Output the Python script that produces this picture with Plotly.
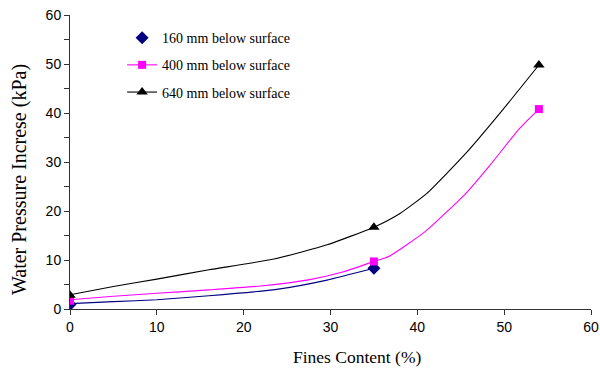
import plotly.graph_objects as go

# Measured points (with markers)
fines_160 = [0, 35]
wp_160 = [0.9, 8.3]
fines_400 = [0, 35, 54]
wp_400 = [1.7, 9.7, 40.8]
fines_640 = [0, 35, 54]
wp_640 = [2.8, 16.7, 49.8]

# Smoothed curves
curve_x_160 = [0, 5, 10, 16, 23.8, 29.6, 35]
curve_y_160 = [1.1, 1.5, 1.9, 2.7, 4.0, 5.9, 8.3]
curve_x_400 = [0, 5, 10, 16, 22, 27.6, 31.5, 35, 36.7, 40.9, 45.6, 48.4, 51.8, 54]
curve_y_400 = [1.9, 2.6, 3.2, 3.9, 4.7, 6.0, 7.6, 9.7, 10.7, 15.8, 23.6, 29.4, 36.9, 40.8]
curve_x_640 = [0, 5, 10, 16, 23.5, 29.6, 35, 38, 41.1, 45.6, 49.9, 54]
curve_y_640 = [2.9, 4.6, 6.1, 8.0, 10.2, 13.1, 16.7, 19.5, 23.6, 31.8, 40.8, 49.8]

x_ticks = [0, 10, 20, 30, 40, 50, 60]
y_ticks = [0, 10, 20, 30, 40, 50, 60]

names = ["160 mm below surface", "400 mm below surface", "640 mm below surface"]
NAVY = "#000080"
MAGENTA = "#FF00FF"
BLACK = "#000000"
SERIF = "Liberation Serif, Times New Roman, serif"
SANS = "Liberation Sans, Arial, sans-serif"
LW = 1.1

fig = go.Figure()

series = [
    (curve_x_160, curve_y_160, fines_160, wp_160, NAVY, "diamond", 10, "markers"),
    (curve_x_400, curve_y_400, fines_400, wp_400, MAGENTA, "square", 8, "lines+markers"),
    (curve_x_640, curve_y_640, fines_640, wp_640, BLACK, "triangle-up", 10, "lines+markers"),
]

for i, (cx, cy, mx, my, col, sym, size, legmode) in enumerate(series):
    fig.add_trace(go.Scatter(x=cx, y=cy, mode="lines",
                             line=dict(color=col, width=LW, shape="spline", smoothing=0.5),
                             showlegend=False, hoverinfo="skip"))
    fig.add_trace(go.Scatter(x=mx, y=my, mode="markers",
                             marker=dict(symbol=sym, size=size, color=col),
                             showlegend=False))
    # legend entry
    fig.add_trace(go.Scatter(x=[None], y=[None], mode=legmode, name=names[i],
                             line=dict(color=col, width=LW),
                             marker=dict(symbol=sym, size=size, color=col),
                             legendgroup="g%d" % i, showlegend=True))

fig.update_layout(
    width=600, height=369,
    margin=dict(l=70, r=9, t=15, b=60),
    paper_bgcolor="white", plot_bgcolor="white",
    showlegend=True,
    legend=dict(x=0.100, y=0.976, xanchor="left", yanchor="top",
                font=dict(family=SERIF, size=14, color="black"),
                bgcolor="rgba(0,0,0,0)", tracegroupgap=6, itemwidth=30),
    xaxis=dict(range=[0, 60], tickvals=x_ticks, ticktext=[str(v) for v in x_ticks],
               showgrid=False, zeroline=False, showline=True, linecolor="#333333", linewidth=1,
               ticks="outside", ticklen=5, tickcolor="#333333", automargin=False,
               tickfont=dict(family=SANS, size=14, color="black")),
    yaxis=dict(range=[0, 60], tickvals=y_ticks, ticktext=[str(v) for v in y_ticks],
               showgrid=False, zeroline=False, showline=True, linecolor="#333333", linewidth=1,
               ticks="outside", ticklen=5, tickcolor="#333333", automargin=False,
               minor=dict(dtick=5, tick0=0, ticks="outside", ticklen=5, tickcolor="#333333", showgrid=False),
               tickfont=dict(family=SANS, size=14, color="black")),
    annotations=[
        dict(text="Fines Content (%)", xref="paper", yref="paper",
             x=(357 - 70) / 521, y=-(357 - 309) / 294, xanchor="center", yanchor="middle",
             showarrow=False, font=dict(family=SERIF, size=17.5, color="black")),
        dict(text="Water Pressure Increse (kPa)", xref="paper", yref="paper",
             x=-(70 - 19) / 521, y=(309 - 180) / 294, xanchor="center", yanchor="middle",
             textangle=-90, showarrow=False, font=dict(family=SERIF, size=20, color="black")),
    ],
)

fig.write_html("out.html")
